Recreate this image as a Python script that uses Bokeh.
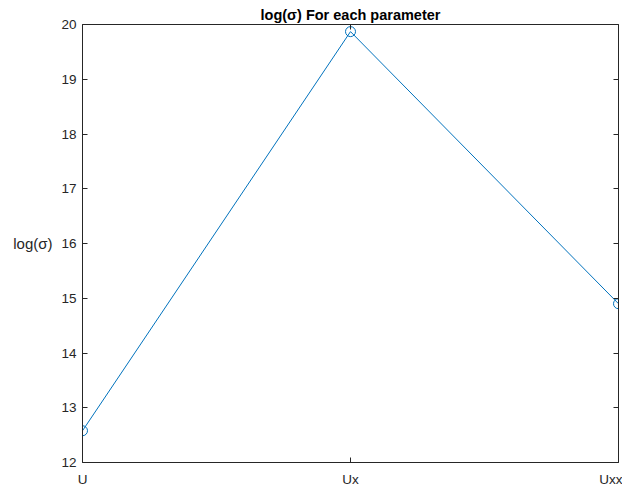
from bokeh.plotting import figure
from bokeh.models import Range1d, FixedTicker, LinearAxis
from bokeh.embed import file_html
from bokeh.resources import INLINE

params = ["U", "Ux", "Uxx"]
log_sigma = [12.58, 19.87, 14.90]
y_ticks = [12, 13, 14, 15, 16, 17, 18, 19, 20]
y_label = "log(σ)"
y_label_at = 16

xs = list(range(len(params)))
FONT = "Liberation Sans"
AX = "#262626"
BLUE = "#0072BD"

p = figure(frame_width=536, frame_height=438, output_backend="svg",
           toolbar_location=None, x_range=Range1d(0, 2), y_range=Range1d(12, 20),
           min_border_left=82, min_border_right=4, min_border_top=24, min_border_bottom=4,
           x_axis_location=None, y_axis_location=None)
p.title.text = "log(σ) For each parameter"
p.title.align = "center"
p.title.text_font = FONT
p.title.text_font_size = "14.5px"
p.title.text_font_style = "bold"
p.title.text_color = "#000000"
p.title.standoff = 4
p.title.offset = 0
p.xgrid.visible = False
p.ygrid.visible = False
p.outline_line_color = None

def style(ax, ticks, labels=True, overrides=None):
    ax.ticker = FixedTicker(ticks=ticks)
    ax.minor_tick_line_color = None
    ax.major_tick_in = 5
    ax.major_tick_out = 0
    ax.axis_line_color = AX
    ax.major_tick_line_color = AX
    ax.major_label_text_font = FONT
    ax.major_label_text_font_size = "13.5px"
    ax.major_label_text_color = AX
    if overrides:
        ax.major_label_overrides = overrides
    if not labels:
        ax.major_label_overrides = {t: "" for t in ticks}
        ax.major_label_standoff = 0

bottom = LinearAxis()
style(bottom, xs, overrides={i: s for i, s in enumerate(params)})
bottom.major_label_standoff = 9
p.add_layout(bottom, "below")
top = LinearAxis()
style(top, xs, labels=False)
p.add_layout(top, "above")
left = LinearAxis()
style(left, y_ticks)
left.major_label_standoff = 6
p.add_layout(left, "left")
# horizontal y-axis title drawn as an outer label-only axis
ylab = LinearAxis()
style(ylab, [y_label_at], overrides={y_label_at: y_label})
ylab.major_label_text_font_size = "15px"
ylab.axis_line_color = None
ylab.major_tick_line_color = None
ylab.major_tick_in = 0
ylab.major_label_standoff = 6
p.add_layout(ylab, "left")
right = LinearAxis()
style(right, y_ticks, labels=False)
p.add_layout(right, "right")

p.line(xs, log_sigma, line_color=BLUE, line_width=1)
p.scatter(xs, log_sigma, marker="circle", size=10, fill_color=None,
          line_color=BLUE, line_width=1)

open("out.html", "w").write(file_html(p, INLINE))
